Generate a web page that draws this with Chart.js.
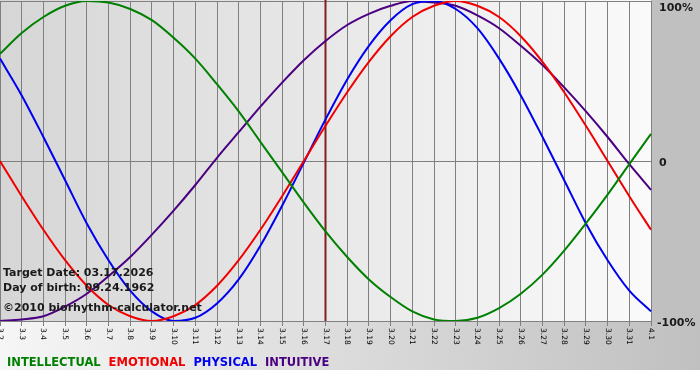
<!DOCTYPE html>
<html><head><meta charset="utf-8">
<script src="https://cdn.jsdelivr.net/npm/chart.js@4"></script>
<style>html,body{margin:0;padding:0;background:#fff;}canvas{display:block;}</style>
</head><body>
<canvas id="c" width="700" height="380"></canvas>
<script>
const dates = ['3.2','3.3','3.4','3.5','3.6','3.7','3.8','3.9','3.10','3.11','3.12','3.13','3.14','3.15','3.16','3.17','3.18','3.19','3.20','3.21','3.22','3.23','3.24','3.25','3.26','3.27','3.28','3.29','3.30','3.31','4.1'];
const intellectual = [67,80,90,97,100,99,95,88,77,64,48,31,12,-7,-26,-44,-60,-74,-85,-94,-99,-100,-98,-92,-83,-71,-56,-39,-21,-2,17];
const emotional = [0,-22,-43,-62,-78,-90,-97,-100,-97,-90,-78,-62,-43,-22,0,22,43,62,78,90,97,100,97,90,78,62,43,22,0,-22,-43];
const physical = [64,41,15,-12,-39,-62,-81,-94,-100,-98,-89,-74,-53,-28,-1,26,51,72,88,98,100,95,83,64,41,15,-12,-39,-62,-81,-94];
const intuitive = [-100,-99,-97,-91,-83,-72,-60,-46,-31,-15,2,18,34,49,63,75,85,92,97,100,99,97,91,83,72,60,46,31,15,-2,-18];
const seriesNames = ['INTELLECTUAL','EMOTIONAL','PHYSICAL','INTUITIVE'];
const seriesColors = ['#008000','#f00000','#0000f0','#4b0082'];
const yTickValues = [100, 0, -100];
const yTickLabels = ['100%','0','-100%'];
const targetDate = '3.17';
const infoLines = ['Target Date: 03.17.2026','Day of birth: 09.24.1962','\u00A92010 biorhythm-calculator.net'];

const seriesData = [intellectual, emotional, physical, intuitive];

const deco = {
  id: 'deco',
  beforeDraw(chart) {
    const {ctx, chartArea: a, width, height} = chart;
    ctx.save();
    ctx.fillStyle = '#ffffff';
    ctx.fillRect(0, 0, width, height);
    let g = ctx.createLinearGradient(0, 0, width, 0);
    g.addColorStop(0, '#f6f6f6');
    g.addColorStop(1, '#c0c0c0');
    ctx.fillStyle = g;
    ctx.fillRect(0, a.bottom, width, 370 - a.bottom);
    ctx.fillStyle = '#c0c0c0';
    ctx.fillRect(a.right, 0, width - a.right, a.bottom + 1);
    g = ctx.createLinearGradient(a.left, 0, a.right, 0);
    g.addColorStop(0, '#d6d6d6');
    g.addColorStop(1, '#fafafa');
    ctx.fillStyle = g;
    ctx.fillRect(a.left, a.top - 1, a.right - a.left, a.bottom - a.top + 1);
    ctx.restore();
  },
  beforeDatasetsDraw(chart) {
    const {ctx, chartArea: a} = chart;
    const xs = chart.scales.x;
    const idx = dates.indexOf(targetDate);
    const x = xs.getPixelForValue(idx);
    ctx.save();
    ctx.strokeStyle = '#802020';
    ctx.lineWidth = 2;
    ctx.beginPath();
    ctx.moveTo(x, 0);
    ctx.lineTo(x, a.bottom);
    ctx.stroke();
    ctx.restore();
  },
  afterDatasetsDraw(chart) {
    const {ctx, chartArea: a} = chart;
    const xs = chart.scales.x, ys = chart.scales.y;
    ctx.save();
    ctx.fillStyle = '#1a1a1a';
    ctx.font = 'bold 11px "DejaVu Sans"';
    ctx.textBaseline = 'alphabetic';
    ctx.textAlign = 'left';
    const infoY = [276, 291, 311];
    infoLines.forEach((t, i) => ctx.fillText(t, 3, infoY[i]));
    ctx.font = '7.5px "DejaVu Sans"';
    ctx.fillStyle = '#000000';
    ctx.textBaseline = 'middle';
    dates.forEach((d, i) => {
      const x = xs.getPixelForValue(i);
      ctx.save();
      ctx.translate(x, a.bottom + 7);
      ctx.rotate(Math.PI / 2);
      ctx.fillText(d, 0, 0);
      ctx.restore();
    });
    ctx.font = 'bold 11px "DejaVu Sans"';
    ctx.fillStyle = '#1a1a1a';
    ctx.textBaseline = 'alphabetic';
    yTickValues.forEach((v, i) => {
      const y = Math.max(11, ys.getPixelForValue(v) + 5);
      const x = yTickLabels[i].startsWith('-') ? a.right + 6 : a.right + 8;
      ctx.fillText(yTickLabels[i], x, y);
    });
    ctx.font = 'bold 11.5px "DejaVu Sans"';
    let lx = 7;
    chart.data.datasets.forEach(ds => {
      ctx.fillStyle = ds.borderColor;
      ctx.fillText(ds.label, lx, 366);
      lx += ctx.measureText(ds.label).width + 8;
    });
    ctx.restore();
  }
};

new Chart(document.getElementById('c'), {
  type: 'line',
  data: {
    labels: dates,
    datasets: seriesData.map((d, i) => ({
      label: seriesNames[i],
      data: d,
      borderColor: seriesColors[i],
      backgroundColor: seriesColors[i],
      borderWidth: 2,
      pointRadius: 0,
      cubicInterpolationMode: 'monotone',
      fill: false
    }))
  },
  options: {
    responsive: false,
    animation: false,
    events: [],
    layout: { padding: { left: 0, top: 1, right: 49, bottom: 54 } },
    plugins: { legend: { display: false }, tooltip: { enabled: false }, title: { display: false } },
    scales: {
      x: {
        type: 'category',
        offset: false,
        grid: { color: '#808080', lineWidth: 1, drawTicks: true, tickLength: 5 },
        border: { display: false },
        ticks: { display: false, autoSkip: false }
      },
      y: {
        position: 'right',
        min: -100, max: 100,
        grid: { color: '#808080', lineWidth: 1, drawTicks: false },
        border: { display: false },
        ticks: { display: false, stepSize: 100 }
      }
    }
  },
  plugins: [deco]
});
</script>
</body></html>
